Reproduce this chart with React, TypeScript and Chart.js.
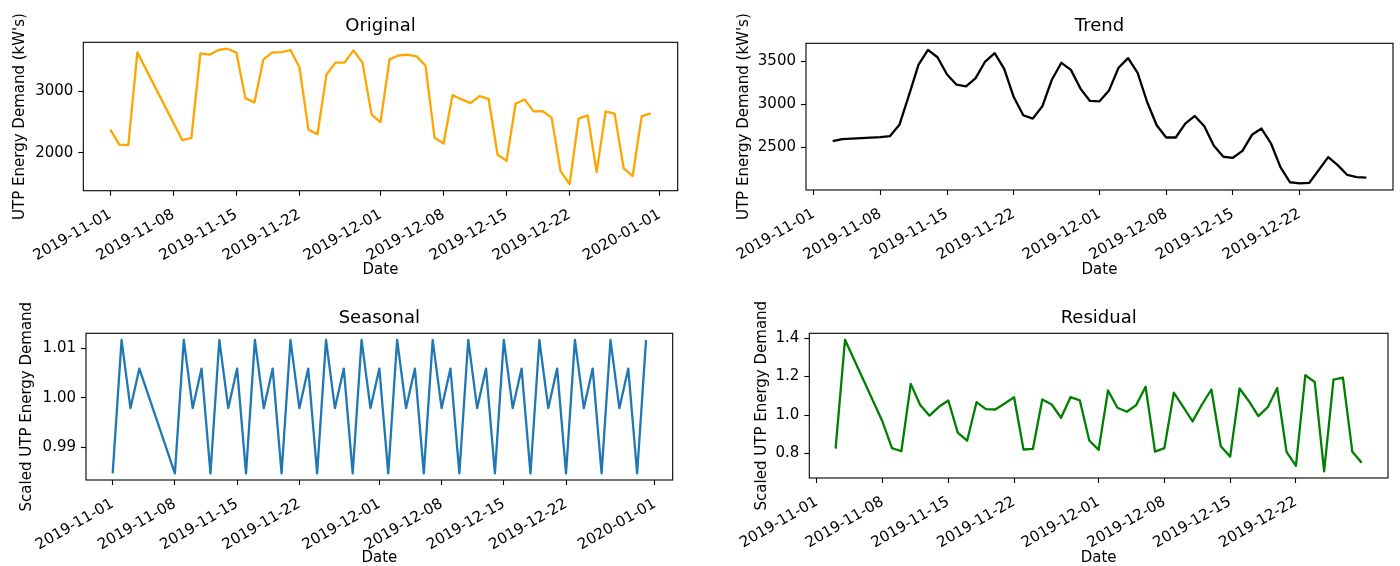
import React, { useEffect, useRef } from "react";
import { Chart, registerables } from "chart.js";

Chart.register(...registerables);

// ---------------- DATA ----------------
const dates = [
  "2019-11-01", "2019-11-02", "2019-11-03", "2019-11-04",
  "2019-11-08", "2019-11-09", "2019-11-10", "2019-11-11", "2019-11-12", "2019-11-13", "2019-11-14",
  "2019-11-15", "2019-11-16", "2019-11-17", "2019-11-18", "2019-11-19", "2019-11-20", "2019-11-21",
  "2019-11-22", "2019-11-23", "2019-11-24", "2019-11-25", "2019-11-26", "2019-11-27", "2019-11-28",
  "2019-11-29", "2019-11-30",
  "2019-12-01", "2019-12-02", "2019-12-03", "2019-12-04", "2019-12-05", "2019-12-06", "2019-12-07",
  "2019-12-08", "2019-12-09", "2019-12-10", "2019-12-11", "2019-12-12", "2019-12-13", "2019-12-14",
  "2019-12-15", "2019-12-16", "2019-12-17", "2019-12-18", "2019-12-19", "2019-12-20", "2019-12-21",
  "2019-12-22", "2019-12-23", "2019-12-24", "2019-12-25", "2019-12-26", "2019-12-27", "2019-12-28",
  "2019-12-29", "2019-12-30", "2019-12-31",
];

const original = [
  2376, 2134, 2124, 3629,
  2490, 2204, 2242, 3613, 3591, 3667, 3688,
  3624, 2887, 2817, 3516, 3629, 3634, 3667,
  3387, 2376, 2301, 3269, 3462, 3462, 3661,
  3462, 2624,
  2495, 3516, 3578, 3591, 3565, 3414, 2247,
  2151, 2935, 2866, 2806, 2919, 2876, 1968,
  1871, 2796, 2866, 2672, 2677, 2570, 1699,
  1495, 2554, 2608, 1688, 2672, 2634, 1753,
  1624, 2591, 2640,
];

const trend = [
  null, null, 2573, 2597,
  2620, 2631, 2763, 3106, 3461, 3635, 3550,
  3349, 3230, 3210, 3307, 3500, 3597, 3415,
  3087, 2875, 2836, 2979, 3288, 3485, 3403,
  3185, 3041,
  3037, 3164, 3427, 3539, 3369, 3029, 2759,
  2616, 2616, 2778, 2867, 2747, 2519, 2392,
  2380, 2461, 2647, 2720, 2546, 2268, 2095,
  2083, 2087, 2237, 2388, 2295, 2180, 2156,
  2149, null, null,
];

const seasonal = [
  0.9847, 1.0117, 0.9979, 1.0059,
  0.9847, 1.0117, 0.9979, 1.0059, 0.9847, 1.0117, 0.9979,
  1.0059, 0.9847, 1.0117, 0.9979, 1.0059, 0.9847, 1.0117,
  0.9979, 1.0059, 0.9847, 1.0117, 0.9979, 1.0059, 0.9847,
  1.0117, 0.9979,
  1.0059, 0.9847, 1.0117, 0.9979, 1.0059, 0.9847, 1.0117,
  0.9979, 1.0059, 0.9847, 1.0117, 0.9979, 1.0059, 0.9847,
  1.0117, 0.9979, 1.0059, 0.9847, 1.0117, 0.9979, 1.0059,
  0.9847, 1.0117, 0.9979, 1.0059, 0.9847, 1.0117, 0.9979,
  1.0059, 0.9847, 1.0117,
];

const residual = [
  null, null, 0.826, 1.391,
  0.965, 0.828, 0.812, 1.162, 1.052, 0.997, 1.043,
  1.076, 0.909, 0.867, 1.067, 1.031, 1.029, 1.06,
  1.093, 0.821, 0.824, 1.081, 1.055, 0.986, 1.093,
  1.076, 0.868,
  0.819, 1.128, 1.038, 1.017, 1.052, 1.147, 0.81,
  0.828, 1.116, 1.043, 0.967, 1.055, 1.133, 0.838,
  0.784, 1.138, 1.072, 0.995, 1.041, 1.14, 0.809,
  0.736, 1.207, 1.172, 0.707, 1.184, 1.195, 0.81,
  0.752, null, null,
];

const xTickLabels = [
  "2019-11-01", "2019-11-08", "2019-11-15", "2019-11-22", "2019-12-01",
  "2019-12-08", "2019-12-15", "2019-12-22", "2020-01-01",
];
const originalYTicks = [2000, 3000];
const trendYTicks = [2500, 3000, 3500];
const seasonalYTicks = [0.99, 1.0, 1.01];
const residualYTicks = [0.8, 1.0, 1.2, 1.4];

// ---------------- HELPERS ----------------
const BASE = Date.UTC(2019, 10, 1);
function dayNum(s: string): number {
  const [y, m, d] = s.split("-").map(Number);
  return (Date.UTC(y, m - 1, d) - BASE) / 86400000;
}
const labelByDay: Record<number, string> = {};
xTickLabels.forEach((s) => (labelByDay[dayNum(s)] = s));
const xTickDays = xTickLabels.map(dayNum);

const FONT = "DejaVu Sans";
const TICK_SIZE = 15;
const TITLE_SIZE = 18;

type Panel = {
  left: number; top: number; width: number; height: number;
  title: string; yLabel: string; values: (number | null)[]; color: string;
  xMin: number; xMax: number; yMin: number; yMax: number;
  yTicks: number[]; yDigits: number;
  yAxisWidth: number; xAxisHeight: number; padRight: number; padBottom: number;
  titlePadTop: number; titlePadBottom: number; yTitlePad: number;
};

const panels: Panel[] = [
  {
    left: 0, top: 0, width: 700, height: 290,
    title: "Original", yLabel: "UTP Energy Demand (kW's)", values: original, color: "#FFA500",
    xMin: -3, xMax: 63, yMin: 1386, yMax: 3792, yTicks: originalYTicks, yDigits: 0,
    yAxisWidth: 83.3, xAxisHeight: 88.3, padRight: 22.3, padBottom: 11,
    titlePadTop: 15.7, titlePadBottom: 5, yTitlePad: 11,
  },
  {
    left: 700, top: 0, width: 700, height: 290,
    title: "Trend", yLabel: "UTP Energy Demand (kW's)", values: trend, color: "#000000",
    xMin: -0.8, xMax: 60.8, yMin: 2005, yMax: 3712, yTicks: trendYTicks, yDigits: 0,
    yAxisWidth: 106, xAxisHeight: 89, padRight: 7, padBottom: 11,
    titlePadTop: 15.7, titlePadBottom: 6, yTitlePad: 35,
  },
  {
    left: 0, top: 290, width: 700, height: 290,
    title: "Seasonal", yLabel: "Scaled UTP Energy Demand", values: seasonal, color: "#1f77b4",
    xMin: -3, xMax: 63, yMin: 0.98335, yMax: 1.01305, yTicks: seasonalYTicks, yDigits: 2,
    yAxisWidth: 86, xAxisHeight: 87, padRight: 27.3, padBottom: 13,
    titlePadTop: 18, titlePadBottom: 3.7, yTitlePad: 17.7,
  },
  {
    left: 700, top: 290, width: 700, height: 290,
    title: "Residual", yLabel: "Scaled UTP Energy Demand", values: residual, color: "#008000",
    xMin: -0.8, xMax: 60.8, yMin: 0.673, yMax: 1.425, yTicks: residualYTicks, yDigits: 1,
    yAxisWidth: 109.3, xAxisHeight: 89, padRight: 12, padBottom: 13,
    titlePadTop: 18, titlePadBottom: 3.7, yTitlePad: 53,
  },
];

const framePlugin = {
  id: "frame",
  afterDraw(chart: any) {
    const { ctx, chartArea: a } = chart;
    ctx.save();
    ctx.strokeStyle = "#000";
    ctx.lineWidth = 1.1;
    ctx.strokeRect(a.left, a.top, a.right - a.left, a.bottom - a.top);
    ctx.restore();
  },
};

function PanelChart({ p }: { p: Panel }) {
  const ref = useRef<HTMLCanvasElement | null>(null);
  useEffect(() => {
    if (!ref.current) return;
    const points = dates.map((d, i) => ({ x: dayNum(d), y: p.values[i] }));
    const chart = new Chart(ref.current, {
      type: "line",
      data: {
        datasets: [
          {
            data: points as any,
            borderColor: p.color,
            borderWidth: 2.3,
            pointRadius: 0,
            tension: 0,
            borderJoinStyle: "round",
            fill: false,
          },
        ],
      },
      options: {
        animation: false,
        responsive: false,
        maintainAspectRatio: false,
        devicePixelRatio: 1,
        events: [],
        layout: { padding: { left: 0, top: 0, right: p.padRight, bottom: p.padBottom } },
        plugins: {
          legend: { display: false },
          tooltip: { enabled: false },
          title: {
            display: true,
            text: p.title,
            color: "#000",
            fullSize: false,
            font: { family: FONT, size: TITLE_SIZE, weight: "normal" },
            padding: { top: p.titlePadTop, bottom: p.titlePadBottom },
          },
        },
        scales: {
          x: {
            type: "linear",
            min: p.xMin,
            max: p.xMax,
            afterBuildTicks: (scale: any) => {
              scale.ticks = xTickDays
                .filter((v) => v >= p.xMin && v <= p.xMax)
                .map((v) => ({ value: v }));
            },
            afterFit: (scale: any) => {
              scale.height = p.xAxisHeight;
            },
            ticks: {
              autoSkip: false,
              minRotation: 30,
              maxRotation: 30,
              padding: 10,
              color: "#000",
              font: { family: FONT, size: TICK_SIZE },
              callback: (v: any) => labelByDay[Number(v)] ?? "",
            },
            grid: {
              display: true,
              drawOnChartArea: false,
              drawTicks: true,
              tickLength: 5,
              tickWidth: 1.1,
              tickColor: "#000",
            },
            border: { display: false },
            title: {
              display: true,
              text: "Date",
              color: "#000",
              font: { family: FONT, size: TICK_SIZE },
              padding: { top: 0, bottom: 0 },
            },
          },
          y: {
            type: "linear",
            min: p.yMin,
            max: p.yMax,
            afterBuildTicks: (scale: any) => {
              scale.ticks = p.yTicks.map((v) => ({ value: v }));
            },
            afterFit: (scale: any) => {
              scale.width = p.yAxisWidth;
            },
            ticks: {
              padding: 5,
              color: "#000",
              font: { family: FONT, size: TICK_SIZE },
              callback: (v: any) => Number(v).toFixed(p.yDigits),
            },
            grid: {
              display: true,
              drawOnChartArea: false,
              drawTicks: true,
              tickLength: 5,
              tickWidth: 1.1,
              tickColor: "#000",
            },
            border: { display: false },
            title: {
              display: true,
              text: p.yLabel,
              color: "#000",
              font: { family: FONT, size: TICK_SIZE },
              padding: { top: p.yTitlePad, bottom: 0 },
            },
          },
        },
      },
      plugins: [framePlugin],
    } as any);
    return () => chart.destroy();
  }, [p]);
  return (
    <canvas
      ref={ref}
      width={p.width}
      height={p.height}
      style={{
        position: "absolute",
        left: p.left,
        top: p.top,
        width: p.width,
        height: p.height,
      }}
    />
  );
}

export default function App() {
  return (
    <div
      style={{
        position: "absolute",
        left: 0,
        top: 0,
        width: 1400,
        height: 566,
        overflow: "hidden",
        background: "#fff",
      }}
    >
      {panels.map((p) => (
        <PanelChart key={p.title} p={p} />
      ))}
    </div>
  );
}
